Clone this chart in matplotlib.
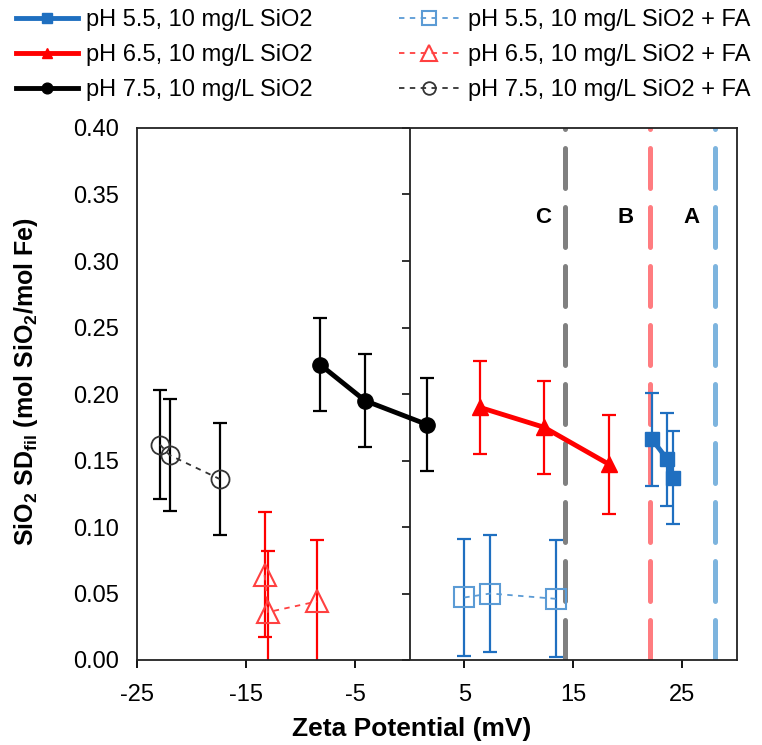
import numpy as np
import matplotlib
matplotlib.use("Agg")
import matplotlib.pyplot as plt
from matplotlib.markers import TICKLEFT

plt.rcParams['font.family'] = ['Liberation Sans', 'DejaVu Sans']
plt.rcParams['mathtext.fontset'] = 'custom'
plt.rcParams['mathtext.rm'] = 'Liberation Sans'
plt.rcParams['mathtext.bf'] = 'Liberation Sans:bold'
plt.rcParams['axes.unicode_minus'] = False

# pH 5.5, no FA
x55 = [22.2, 23.6, 24.1]
y55 = [0.166, 0.151, 0.137]
e55 = [0.035, 0.035, 0.035]
# pH 6.5, no FA
x65 = [6.4, 12.3, 18.3]
y65 = [0.190, 0.175, 0.147]
e65 = [0.035, 0.035, 0.037]
# pH 7.5, no FA
x75 = [-8.2, -4.1, 1.6]
y75 = [0.222, 0.195, 0.177]
e75 = [0.035, 0.035, 0.035]
# with FA
x55fa = [5.0, 7.4, 13.4]
y55fa = [0.047, 0.050, 0.046]
e55fa = [0.044, 0.044, 0.044]
x65fa = [-13.3, -13.0, -8.5]
y65fa = [0.064, 0.036, 0.044]
e65fa = [0.047, 0.046, 0.046]
x75fa = [-22.9, -22.0, -17.4]
y75fa = [0.162, 0.154, 0.136]
e75fa = [0.041, 0.042, 0.042]

# region boundaries
bounds = [14.2, 22.0, 28.0]
bound_colors = ['#808080', '#ff7c80', '#7db4de']
region_labels = ['C', 'B', 'A']
label_x = [12.2, 19.8, 25.8]
label_y = 0.333

yticks = np.arange(0, 0.401, 0.05)
xticks = np.arange(-25, 26, 10)

blue = '#1f6fc0'
lblue = '#5b9bd5'
red = '#ff0000'

fig = plt.figure(figsize=(7.62, 7.45), dpi=100)
ax = fig.add_axes([137 / 762, 1 - 660 / 745, 600 / 762, 532 / 745])

for xb, c in zip(bounds, bound_colors):
    ax.axvline(xb, color=c, lw=3.6, dashes=(8, 3.8), dash_capstyle='round', zorder=1)
for xl, t in zip(label_x, region_labels):
    ax.text(xl, label_y, t, fontsize=16, fontweight='bold', ha='center', va='center')

ax.axvline(0, color='#222222', lw=1.3, zorder=1)
ax.plot(np.zeros(len(yticks)), yticks, ls='none', marker=TICKLEFT, ms=6, mew=1.3,
        color='#222222', clip_on=False, zorder=1)

ekw = dict(fmt='none', capsize=5, elinewidth=1.6, capthick=1.6, zorder=2)
ax.errorbar(x55, y55, yerr=e55, ecolor=blue, **ekw)
ax.errorbar(x65, y65, yerr=e65, ecolor=red, **ekw)
ax.errorbar(x75, y75, yerr=e75, ecolor='black', **ekw)
ax.errorbar(x55fa, y55fa, yerr=e55fa, ecolor=blue, **ekw)
ax.errorbar(x65fa, y65fa, yerr=e65fa, ecolor=red, **ekw)
ax.errorbar(x75fa, y75fa, yerr=e75fa, ecolor='black', **ekw)

h1, = ax.plot(x55, y55, color=blue, lw=3.5, marker='s', ms=10, zorder=3,
              label='pH 5.5, 10 mg/L SiO2')
h2, = ax.plot(x65, y65, color=red, lw=3.5, marker='^', ms=11, zorder=3,
              label='pH 6.5, 10 mg/L SiO2')
h3, = ax.plot(x75, y75, color='black', lw=3.5, marker='o', ms=11, zorder=3,
              label='pH 7.5, 10 mg/L SiO2')
h4, = ax.plot(x55fa, y55fa, color=lblue, lw=1.3, ls=(0, (3, 3)), marker='s', ms=15,
              mfc='none', mew=1.5, zorder=3, label='pH 5.5, 10 mg/L SiO2 + FA')
h5, = ax.plot(x65fa, y65fa, color='#ff4040', lw=1.3, ls=(0, (3, 3)), marker='^', ms=16,
              mfc='none', mew=1.5, zorder=3, label='pH 6.5, 10 mg/L SiO2 + FA')
h6, = ax.plot(x75fa, y75fa, color='#333333', lw=1.3, ls=(0, (3, 3)), marker='o', ms=13,
              mfc='none', mew=1.3, zorder=3, label='pH 7.5, 10 mg/L SiO2 + FA')

ax.set_xlim(-25, 30)
ax.set_ylim(0, 0.40)
ax.set_xticks(xticks)
ax.set_yticks(yticks)
ax.set_yticklabels(['%.2f' % v for v in yticks])
ax.tick_params(axis='x', direction='out', length=6, width=1.3, labelsize=17, pad=11)
ax.tick_params(axis='y', length=0, labelsize=17, pad=13)
for s in ax.spines.values():
    s.set_linewidth(1.3)
    s.set_color('#222222')

ax.set_xlabel('Zeta Potential (mV)', fontsize=19, fontweight='bold')
ax.xaxis.set_label_coords(0.457, -0.108)
ax.set_ylabel(r'SiO$_\mathbf{2}$ SD$_\mathbf{fil}$ (mol SiO$_\mathbf{2}$/mol Fe)',
              fontsize=18, fontweight='bold')
ax.yaxis.set_label_coords(-0.162, 0.523)

fig.legend(handles=[h1, h2, h3, h4, h5, h6], loc='upper left', bbox_to_anchor=(0.012, 0.997),
           ncol=2, frameon=False, fontsize=17, handlelength=2.6, columnspacing=3.65,
           labelspacing=0.55, handletextpad=0.35, markerscale=0.7,
           borderaxespad=0, borderpad=0.3)

fig.savefig('out.png', dpi=100)
